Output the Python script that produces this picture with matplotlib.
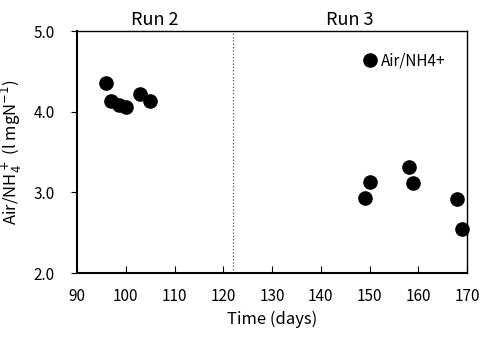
import matplotlib
matplotlib.use("Agg")
import matplotlib.pyplot as plt

plt.rcParams['font.family'] = ['Noto Sans CJK JP', 'DejaVu Sans']

run2_days = [96, 97, 98.6, 100, 103, 105]
run2_vals = [4.36, 4.13, 4.08, 4.06, 4.22, 4.13]
run3_days = [149, 150, 158, 159, 168, 169]
run3_vals = [2.93, 3.13, 3.31, 3.12, 2.92, 2.54]
run_split = 122

fig = plt.figure(figsize=(4.81, 3.38), dpi=100)
ax = fig.add_axes([77/481, 1 - 273/338, 390/481, 242/338])

ax.plot(run2_days + run3_days, run2_vals + run3_vals, 'o', color='black',
        markersize=9.5, label='Air/NH4+', clip_on=False)
ax.axvline(run_split, color='#555555', linestyle=':', linewidth=0.9)

ax.set_xlim(90, 170)
ax.set_ylim(2.0, 5.0)
ax.set_xticks(range(90, 171, 10))
ax.set_yticks([2.0, 3.0, 4.0, 5.0])
ax.set_yticklabels(['2.0', '3.0', '4.0', '5.0'])
ax.tick_params(axis='x', direction='in', length=5, labelsize=11, pad=11)
ax.tick_params(axis='y', direction='out', length=4, labelsize=11, pad=12)
for s in ax.spines.values():
    s.set_linewidth(1.0)
ax.spines['bottom'].set_linewidth(1.5)
ax.spines['left'].set_linewidth(1.5)

ax.set_xlabel('Time (days)', fontsize=12, labelpad=4)
ax.set_ylabel('Air/NH$_4^+$ (l mgN$^{-1}$)', fontsize=12)
ax.yaxis.set_label_coords(-0.135, 0.5)

ax.text(106, 5.03, 'Run 2', ha='center', va='bottom', fontsize=13)
ax.text(146, 5.03, 'Run 3', ha='center', va='bottom', fontsize=13)

ax.legend(loc='upper right', frameon=False, fontsize=11, handletextpad=0.1,
          handlelength=1.2, bbox_to_anchor=(0.96, 0.935), borderaxespad=0)

fig.savefig('out.png', dpi=100)
